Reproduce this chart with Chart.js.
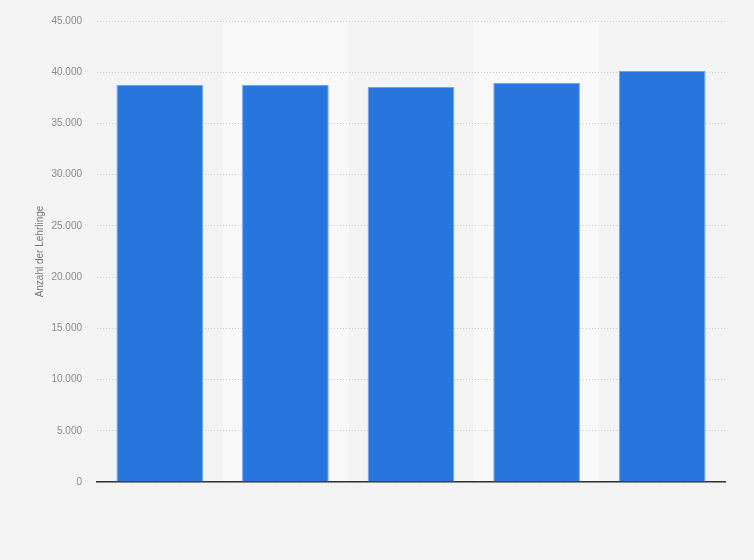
<!DOCTYPE html>
<html>
<head>
<meta charset="utf-8">
<script src="https://cdn.jsdelivr.net/npm/chart.js@4"></script>
<style>
html,body{margin:0;padding:0;background:#f3f3f3;}
#wrap{width:754px;height:560px;position:relative;}
</style>
</head>
<body>
<div id="wrap"><canvas id="c" width="754" height="560"></canvas></div>
<script>
const categories = ['1', '2', '3', '4', '5'];
const values = [38750, 38750, 38560, 38950, 40120];
const yTicks = [0, 5000, 10000, 15000, 20000, 25000, 30000, 35000, 40000, 45000];
const yTitle = 'Anzahl der Lehrlinge';

const bandPlugin = {
  id: 'bands',
  beforeDraw(chart) {
    const {ctx, chartArea, scales: {x}} = chart;
    ctx.save();
    ctx.fillStyle = '#f8f8f8';
    const n = categories.length;
    for (let i = 1; i < n; i += 2) {
      const cw = (chartArea.right - chartArea.left) / n;
      const cx = x.getPixelForValue(i);
      ctx.fillRect(cx - cw / 2, chartArea.top, cw, chartArea.bottom - chartArea.top);
    }
    ctx.restore();
  }
};

new Chart(document.getElementById('c'), {
  type: 'bar',
  data: {
    labels: categories,
    datasets: [{
      data: values,
      backgroundColor: '#2876dd',
      borderColor: '#6fa3ea',
      borderWidth: 1,
      barPercentage: 0.69,
      categoryPercentage: 1.0
    }]
  },
  options: {
    responsive: false,
    animation: false,
    devicePixelRatio: 1,
    layout: {padding: {left: 0, right: 29, top: 20, bottom: 70}},
    plugins: {legend: {display: false}, tooltip: {enabled: false}},
    scales: {
      x: {
        grid: {display: false},
        border: {display: true, color: '#333333', width: 1.5},
        ticks: {display: false}
      },
      y: {
        min: 0,
        max: 45000,
        afterBuildTicks(scale) { scale.ticks = yTicks.map(v => ({value: v})); },
        afterFit(scale) { scale.width = 97; },
        border: {display: false, dash: [1, 2]},
        grid: {color: '#cfcfcf', drawTicks: false, lineWidth: 1},
        ticks: {
          padding: 15,
          color: '#8a8a8a',
          font: {family: 'Liberation Sans, Arial, sans-serif', size: 10},
          callback: v => v.toLocaleString('de-DE')
        },
        title: {
          display: true,
          text: yTitle,
          color: '#777777',
          font: {family: 'Liberation Sans, Arial, sans-serif', size: 10},
          padding: {top: 34, bottom: 0}
        }
      }
    }
  },
  plugins: [bandPlugin]
});
</script>
</body>
</html>
